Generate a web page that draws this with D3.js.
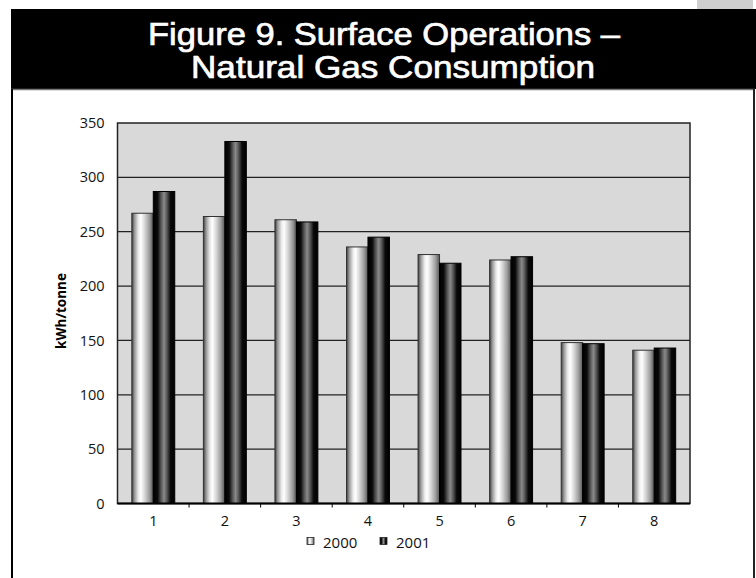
<!DOCTYPE html>
<html><head><meta charset="utf-8">
<script src="https://cdn.jsdelivr.net/npm/d3@7"></script>
<style>html,body{margin:0;padding:0;background:#fff}svg{display:block}</style>
</head><body>
<script>
const categories = ["1","2","3","4","5","6","7","8"];
const seriesNames = ["2000","2001"];
const values2000 = [267, 264, 261, 236, 229, 224, 148, 141];
const values2001 = [287, 333, 259, 245, 221, 227, 147, 143];
const yTicks = [0,50,100,150,200,250,300,350];
const titleLines = ["Figure 9. Surface Operations \u2013", "Natural Gas Consumption"];
const yLabel = "kWh/tonne";

const W = 756, H = 578;
const svg = d3.select("body").append("svg").attr("width", W).attr("height", H);
const defs = svg.append("defs");

function grad(id, stops){
  const g = defs.append("linearGradient").attr("id", id).attr("x1","0%").attr("x2","100%").attr("y1","0%").attr("y2","0%");
  stops.forEach(s => g.append("stop").attr("offset", s[0]).attr("stop-color", s[1]));
}
grad("g2000", [[0,"#3a3a3a"],[0.12,"#959595"],[0.3,"#e8e8e8"],[0.42,"#ffffff"],[0.6,"#d6d6d6"],[0.82,"#9c9c9c"],[1,"#555"]]);
grad("g2001", [[0,"#000"],[0.2,"#0a0a0a"],[0.36,"#555"],[0.5,"#8a8a8a"],[0.64,"#555"],[0.8,"#0a0a0a"],[1,"#000"]]);

// decoration top right
svg.append("rect").attr("x",697).attr("y",0).attr("width",56).attr("height",9).attr("fill","#cfcfcf");
// title bar
svg.append("rect").attr("x",11).attr("y",9).attr("width",745).attr("height",80).attr("fill","#000");
// white frame
svg.append("line").attr("x1",11).attr("x2",755).attr("y1",89.5).attr("y2",89.5).attr("stroke","#777").attr("stroke-width",1.5);
svg.append("line").attr("x1",12).attr("x2",12).attr("y1",89).attr("y2",H).attr("stroke","#000").attr("stroke-width",2);
svg.append("line").attr("x1",754).attr("x2",754).attr("y1",89).attr("y2",H).attr("stroke","#222").attr("stroke-width",2);

const title = svg.append("text").attr("fill","#fff").attr("stroke","#fff").attr("stroke-width",0.7)
  .attr("font-family","Liberation Sans, Arial, sans-serif")
  .attr("font-size",32).attr("text-anchor","middle");
title.append("tspan").attr("x",384).attr("y",45).attr("textLength",472).attr("lengthAdjust","spacingAndGlyphs").text(titleLines[0]);
title.append("tspan").attr("x",393).attr("y",78).attr("textLength",404).attr("lengthAdjust","spacingAndGlyphs").text(titleLines[1]);

const m = {l:117.5, r:690, t:123, b:503.5};
const x = d3.scaleBand().domain(categories).range([m.l, m.r]).padding(0);
const y = d3.scaleLinear().domain([0,350]).range([m.b, m.t]);

svg.append("rect").attr("x",m.l).attr("y",m.t).attr("width",m.r-m.l).attr("height",m.b-m.t).attr("fill","#d9d9d9");

svg.append("g").selectAll("line").data(yTicks.filter(d=>d>0&&d<350)).join("line")
  .attr("x1",m.l).attr("x2",m.r).attr("y1",d=>y(d)).attr("y2",d=>y(d))
  .attr("stroke","#222").attr("stroke-width",1.2);

svg.append("rect").attr("x",m.l).attr("y",m.t).attr("width",m.r-m.l).attr("height",m.b-m.t)
  .attr("fill","none").attr("stroke","#222").attr("stroke-width",1.5);

const bw = x.bandwidth()*0.3;
const series = [values2000, values2001];
series.forEach((vals, si) => {
  svg.append("g").selectAll("rect").data(vals).join("rect")
    .attr("x",(d,i)=> x(categories[i]) + x.bandwidth()/2 - bw + si*bw)
    .attr("y",d=>y(d)).attr("width",bw).attr("height",d=>y(0)-y(d))
    .attr("fill", si===0 ? "url(#g2000)" : "url(#g2001)")
    .attr("stroke", si===0 ? "#333" : "#000").attr("stroke-width",1);
});

// axes
const yAxis = svg.append("g").attr("transform",`translate(${m.l},0)`)
  .call(d3.axisLeft(y).tickValues(yTicks).tickSize(0).tickPadding(13));
yAxis.select(".domain").remove();
yAxis.selectAll("text").attr("font-family","Open Sans, sans-serif").attr("font-size",14.5).attr("fill","#111");

const xAxis = svg.append("g").attr("transform",`translate(0,${m.b})`)
  .call(d3.axisBottom(x).tickSize(0).tickPadding(12));
xAxis.select(".domain").remove();
xAxis.selectAll("text").attr("font-family","Open Sans, sans-serif").attr("font-size",14.5).attr("fill","#111");
svg.append("line").attr("x1",m.l).attr("x2",m.r).attr("y1",m.b).attr("y2",m.b).attr("stroke","#000").attr("stroke-width",2);
svg.append("g").selectAll("line").data(categories.slice(1)).join("line")
  .attr("x1",d=>x(d)).attr("x2",d=>x(d)).attr("y1",m.b).attr("y2",m.b+4).attr("stroke","#000");

svg.append("text").attr("transform",`translate(66,311) rotate(-90)`).attr("text-anchor","middle")
  .attr("font-family","Open Sans, sans-serif").attr("font-weight","bold").attr("font-size",13.5).attr("fill","#000")
  .text(yLabel);

// legend
const leg = svg.append("g");
const legX = [307, 380];
seriesNames.forEach((n,i)=>{
  leg.append("rect").attr("x",legX[i]).attr("y",537.5).attr("width",7).attr("height",7)
    .attr("fill", i===0 ? "url(#g2000)" : "url(#g2001)").attr("stroke","#222").attr("stroke-width",0.8);
  leg.append("text").attr("x",legX[i]+16).attr("y",548).attr("font-family","Open Sans, sans-serif")
    .attr("font-size",15).attr("fill","#111").text(n);
});
</script>
</body></html>
